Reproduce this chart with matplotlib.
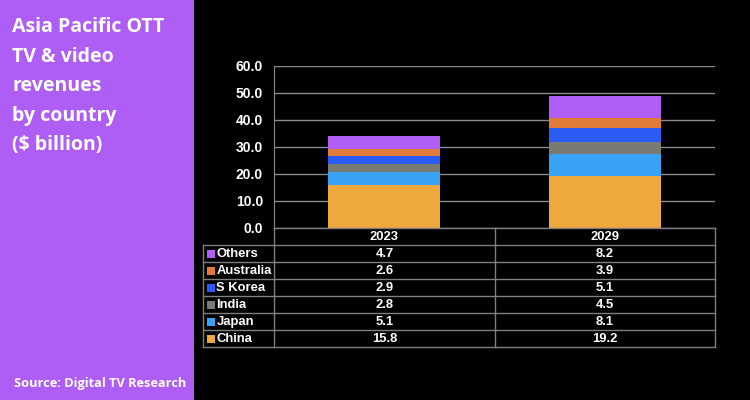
import matplotlib.pyplot as plt
from matplotlib.patches import Rectangle

# data
years = ['2023', '2029']
countries = ['China', 'Japan', 'India', 'S Korea', 'Australia', 'Others']
china = [15.8, 19.2]
japan = [5.1, 8.1]
india = [2.8, 4.5]
skorea = [2.9, 5.1]
australia = [2.6, 3.9]
others = [4.7, 8.2]
series = [china, japan, india, skorea, australia, others]
colors = ['#EDA83E', '#38A2F5', '#7A7A74', '#2A5BF5', '#E07B39', '#AF5FF5']
yticks = [0, 10, 20, 30, 40, 50, 60]

W, H = 750, 400
fig = plt.figure(figsize=(W / 100, H / 100), dpi=100, facecolor='black')

# left purple panel
fig.patches.append(Rectangle((0, 0), 194 / W, 1, transform=fig.transFigure,
                             facecolor='#AE5EF5', edgecolor='none', zorder=0))
title_lines = ['Asia Pacific OTT', 'TV & video', 'revenues', 'by country', '($ billion)']
for i, line in enumerate(title_lines):
    fig.text(12 / W, 1 - (32 + i * 29.5) / H, line, color='white', fontsize=14,
             fontweight='bold', family='Open Sans', va='baseline', ha='left')
fig.text(14 / W, 1 - 387 / H, 'Source: Digital TV Research', color='white',
         fontsize=9.2, fontweight='bold', family='Open Sans', va='baseline', ha='left')

# chart area
x0, x1, ytop, ybot = 274, 715, 66, 228
ax = fig.add_axes([x0 / W, 1 - ybot / H, (x1 - x0) / W, (ybot - ytop) / H])
ax.set_facecolor('black')
bottom = [0, 0]
for vals, c in zip(series, colors):
    ax.bar([0, 1], vals, width=0.51, bottom=bottom, color=c, zorder=3)
    bottom = [b + v for b, v in zip(bottom, vals)]
ax.set_xlim(-0.5, 1.5)
ax.set_ylim(0, 60)
ax.set_yticks(yticks)
ax.set_yticklabels(['%.1f' % t for t in yticks], color='white', fontsize=10,
                   fontweight='bold', family='Liberation Sans')
ax.set_xticks([])
ax.tick_params(axis='y', length=0, pad=8)
ax.grid(axis='y', color='#8a8a8a', lw=1, zorder=1)
for s in ['top', 'right', 'bottom']:
    ax.spines[s].set_visible(False)
ax.spines['left'].set_color('#8a8a8a')

# data table under the chart
tab = fig.add_axes([0, 0, 1, 1], zorder=5)
tab.set_xlim(0, W)
tab.set_ylim(H, 0)
tab.axis('off')
lc = '#7f7f7f'
tl, xmid = 203, 495
row_h = 17
head_top = 228
rows_top = head_top + row_h
n = len(countries)
rows_bot = rows_top + n * row_h
# horizontal lines
tab.plot([x0, x1], [head_top, head_top], color=lc, lw=1)
for r in range(n + 1):
    y = rows_top + r * row_h
    tab.plot([tl, x1], [y, y], color=lc, lw=1)
# vertical lines
tab.plot([tl, tl], [rows_top, rows_bot], color=lc, lw=1)
for x in [x0, xmid, x1]:
    tab.plot([x, x], [head_top, rows_bot], color=lc, lw=1)

tfont = dict(color='white', fontsize=9.4, fontweight='bold', family='Liberation Sans')
centers = [(x0 + xmid) / 2, (xmid + x1) / 2]
for cx, yr in zip(centers, years):
    tab.text(cx, head_top + row_h / 2 + 0.5, yr, ha='center', va='center', **tfont)
for r, idx in enumerate(reversed(range(n))):
    yc = rows_top + r * row_h + row_h / 2 + 0.5
    tab.add_patch(Rectangle((207, yc - 4), 8, 8, facecolor=colors[idx], edgecolor='none'))
    tab.text(216.5, yc, countries[idx], ha='left', va='center', **tfont)
    for cx, v in zip(centers, series[idx]):
        tab.text(cx, yc, '%.1f' % v, ha='center', va='center', **tfont)

fig.savefig('out.png', dpi=100, facecolor='black')
